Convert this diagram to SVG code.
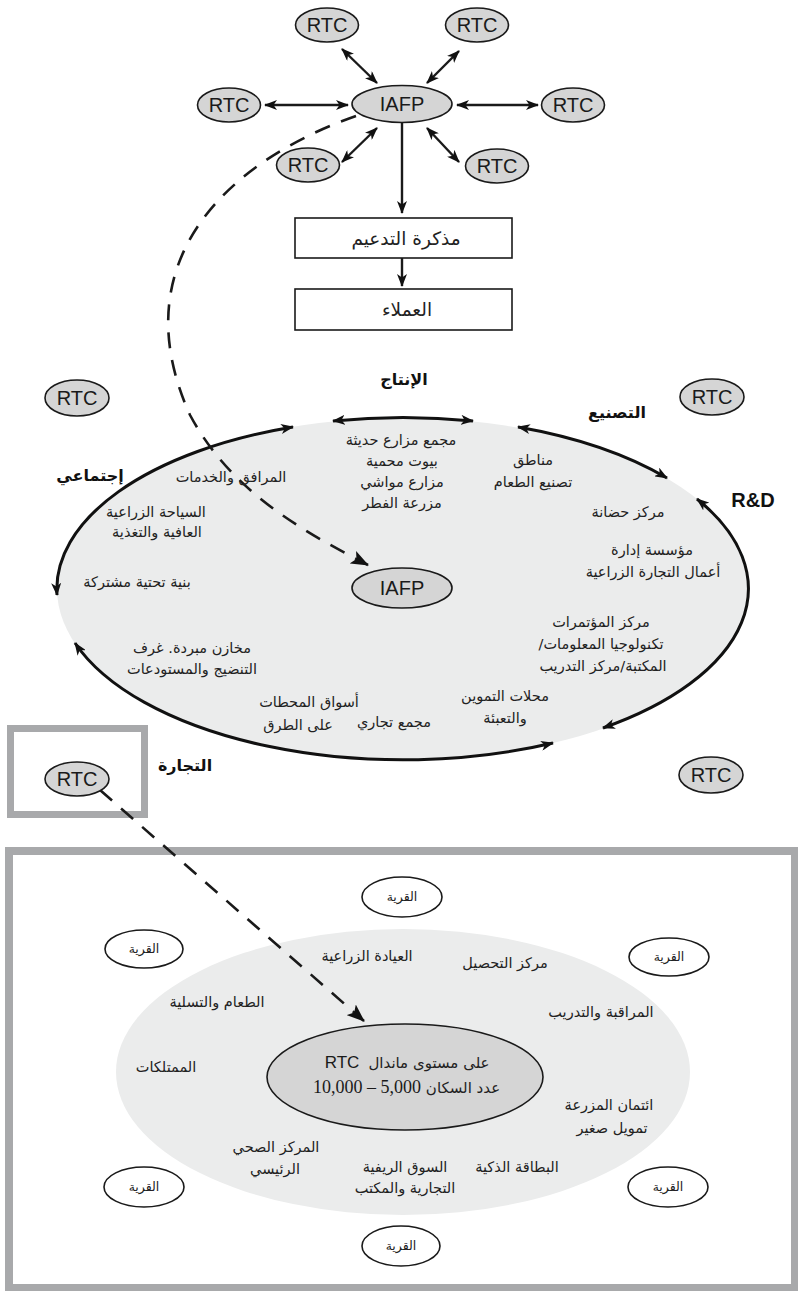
<svg xmlns="http://www.w3.org/2000/svg" width="798" height="1291" viewBox="0 0 798 1291">
  <style>
    .node { fill: #d5d5d5; stroke: #1a1a1a; stroke-width: 1.6; }
    .village { fill: #ffffff; stroke: #1a1a1a; stroke-width: 1.6; }
    .box { fill: #ffffff; stroke: #1a1a1a; stroke-width: 1.6; }
    .lat { font-family: "Liberation Sans", Arial, sans-serif; font-size: 20px; fill: #1a1a1a; text-anchor: middle; }
    .ar { font-family: "DejaVu Sans", "Noto Sans", sans-serif; font-size: 14.5px; fill: #222; text-anchor: middle; }
    .arbox { font-family: "DejaVu Sans", "Noto Sans", sans-serif; font-size: 18.5px; fill: #222; text-anchor: middle; }
    .arv { font-family: "DejaVu Sans", "Noto Sans", sans-serif; font-size: 12.5px; fill: #222; text-anchor: middle; }
    .head { font-family: "DejaVu Sans", "Noto Sans", sans-serif; font-size: 16px; font-weight: bold; fill: #111; text-anchor: middle; }
    .headlat { font-family: "Liberation Sans", Arial, sans-serif; font-size: 20px; font-weight: bold; fill: #111; text-anchor: middle; }
    .num { font-family: "Liberation Serif", "Times New Roman", serif; font-size: 18px; fill: #1a1a1a; }
    .link { fill: none; stroke: #1a1a1a; stroke-width: 2.4; }
    .arc { fill: none; stroke: #111; stroke-width: 3; }
    .dash { fill: none; stroke: #1a1a1a; stroke-width: 2.6; stroke-dasharray: 16 12; }
  </style>
  <defs>
    <marker id="ah" viewBox="0 0 13 10" refX="12" refY="5" markerWidth="13" markerHeight="10" markerUnits="userSpaceOnUse" orient="auto-start-reverse">
      <path d="M0,0 L13,5 L0,10 L3.5,5 z" fill="#111"/>
    </marker>
    <marker id="ahL" viewBox="0 0 18 14" refX="17" refY="7" markerWidth="18" markerHeight="14" markerUnits="userSpaceOnUse" orient="auto">
      <path d="M0,0 L18,7 L0,14 L4,7 z" fill="#111"/>
    </marker>
  </defs>

  <!-- background panels -->
  <rect x="0" y="0" width="798" height="1291" fill="#ffffff"/>
  <ellipse id="cluster-field" cx="403" cy="589" rx="346" ry="171" fill="#ebecec"/>
  <rect id="zoom-frame" x="9" y="851" width="786" height="437" fill="none" stroke="#a8a9ab" stroke-width="8"/>
  <rect id="lens-frame" x="10.5" y="728.5" width="134" height="86" fill="none" stroke="#a8a9ab" stroke-width="7"/>
  <ellipse id="mandal-field" cx="403" cy="1072" rx="287" ry="143" fill="#ebecec"/>

  <!-- connectors -->
  <g id="connectors">
    <line class="link" x1="265" y1="105" x2="348" y2="105" marker-start="url(#ah)" marker-end="url(#ah)"/>
    <line class="link" x1="457" y1="105" x2="538" y2="105" marker-start="url(#ah)" marker-end="url(#ah)"/>
    <line class="link" x1="342" y1="49" x2="377" y2="83" marker-start="url(#ah)" marker-end="url(#ah)"/>
    <line class="link" x1="459" y1="51" x2="427" y2="83" marker-start="url(#ah)" marker-end="url(#ah)"/>
    <line class="link" x1="377" y1="128" x2="342" y2="162" marker-start="url(#ah)" marker-end="url(#ah)"/>
    <line class="link" x1="427" y1="128" x2="459" y2="162" marker-start="url(#ah)" marker-end="url(#ah)"/>
    <line class="link" x1="402" y1="123" x2="402" y2="213" marker-end="url(#ah)"/>
    <line class="link" x1="402" y1="258" x2="402" y2="286" marker-end="url(#ah)"/>

    <!-- ring of sectors around the cluster -->
    <path class="arc" d="M57,595 A346,171 0 0 1 293,427" marker-start="url(#ah)" marker-end="url(#ah)"/>
    <path class="arc" d="M333,421 A346,171 0 0 1 473,421" marker-start="url(#ah)" marker-end="url(#ah)"/>
    <path class="arc" d="M518,427 A346,171 0 0 1 667,478" marker-start="url(#ah)" marker-end="url(#ah)"/>
    <path class="arc" d="M697,499 A346,171 0 0 1 603,728" marker-start="url(#ah)" marker-end="url(#ah)"/>
    <path class="arc" d="M553,743 A346,171 0 0 1 75,643" marker-start="url(#ah)" marker-end="url(#ah)"/>

    <!-- dashed references -->
    <path class="dash" d="M356,116 C230,160 120,260 190,415 C230,490 300,530 368,565" marker-end="url(#ahL)"/>
    <path class="dash" d="M100,790 L364,1021" marker-end="url(#ahL)"/>
  </g>

  <!-- top network -->
  <g id="rtc-top-left"><ellipse class="node" cx="327" cy="25" rx="31.5" ry="17"/><text class="lat" x="327" y="32">RTC</text></g>
  <g id="rtc-top-right"><ellipse class="node" cx="477" cy="25" rx="31.5" ry="17"/><text class="lat" x="477" y="32">RTC</text></g>
  <g id="rtc-left"><ellipse class="node" cx="229" cy="105" rx="31.5" ry="17"/><text class="lat" x="229" y="112">RTC</text></g>
  <g id="iafp-hub"><ellipse class="node" cx="402" cy="104" rx="50" ry="18.5"/><text class="lat" x="402" y="111">IAFP</text></g>
  <g id="rtc-right"><ellipse class="node" cx="573" cy="105" rx="31.5" ry="17"/><text class="lat" x="573" y="112">RTC</text></g>
  <g id="rtc-bottom-left"><ellipse class="node" cx="308" cy="165" rx="31.5" ry="17"/><text class="lat" x="308" y="172">RTC</text></g>
  <g id="rtc-bottom-right"><ellipse class="node" cx="497" cy="166" rx="31.5" ry="17"/><text class="lat" x="497" y="173">RTC</text></g>

  <g id="support-memo"><rect class="box" x="295" y="218" width="217" height="40"/><text class="arbox" x="406" y="245">مذكرة التدعيم</text></g>
  <g id="clients"><rect class="box" x="295" y="289" width="217" height="41"/><text class="arbox" x="407" y="316">العملاء</text></g>

  <!-- cluster ring -->
  <g id="rtc-mid-tl"><ellipse class="node" cx="77" cy="398" rx="32" ry="18"/><text class="lat" x="77" y="405">RTC</text></g>
  <g id="rtc-mid-tr"><ellipse class="node" cx="712" cy="397" rx="32" ry="18"/><text class="lat" x="712" y="404">RTC</text></g>
  <g id="rtc-mid-br"><ellipse class="node" cx="711" cy="775" rx="32" ry="18"/><text class="lat" x="711" y="782">RTC</text></g>
  <g id="rtc-mid-bl"><ellipse class="node" cx="77" cy="779" rx="32" ry="17"/><text class="lat" x="77" y="786">RTC</text></g>
  <g id="iafp-core"><ellipse class="node" cx="402" cy="588" rx="50" ry="20"/><text class="lat" x="402" y="595">IAFP</text></g>

  <g id="sector-labels">
    <text class="head" x="404" y="385">الإنتاج</text>
    <text class="head" x="617" y="418">التصنيع</text>
    <text class="headlat" x="753" y="507">R&amp;D</text>
    <text class="head" x="90" y="481">إجتماعي</text>
    <text class="head" x="185" y="771">التجارة</text>
  </g>

  <g id="production">
    <text class="ar" x="401" y="445">مجمع مزارع حديثة</text>
    <text class="ar" x="402" y="466">بيوت محمية</text>
    <text class="ar" x="402" y="487">مزارع مواشي</text>
    <text class="ar" x="402" y="508">مزرعة الفطر</text>
  </g>
  <g id="processing">
    <text class="ar" x="533" y="465">مناطق</text>
    <text class="ar" x="533" y="487">تصنيع الطعام</text>
  </g>
  <g id="research">
    <text class="ar" x="628" y="517">مركز حضانة</text>
    <text class="ar" x="652" y="555">مؤسسة إدارة</text>
    <text class="ar" x="653" y="577">أعمال التجارة الزراعية</text>
    <text class="ar" x="601" y="627">مركز المؤتمرات</text>
    <text class="ar" x="601" y="649">/تكنولوجيا المعلومات</text>
    <text class="ar" x="603" y="671">المكتبة/مركز التدريب</text>
  </g>
  <g id="trade">
    <text class="ar" x="505" y="701">محلات التموين</text>
    <text class="ar" x="505" y="723">والتعبئة</text>
    <text class="ar" x="394" y="727">مجمع تجاري</text>
    <text class="ar" x="309" y="707">أسواق المحطات</text>
    <text class="ar" x="298" y="730">على الطرق</text>
    <text class="ar" x="192" y="653">مخازن مبردة. غرف</text>
    <text class="ar" x="192" y="674">التنضيج والمستودعات</text>
  </g>
  <g id="social">
    <text class="ar" x="137" y="587">بنية تحتية مشتركة</text>
    <text class="ar" x="231" y="482">المرافق والخدمات</text>
    <text class="ar" x="156" y="517">السياحة الزراعية</text>
    <text class="ar" x="157" y="537">العافية والتغذية</text>
  </g>

  <!-- mandal-level detail -->
  <g id="village-n"><ellipse class="village" cx="402" cy="897" rx="40" ry="20"/><text class="arv" x="402" y="901">القرية</text></g>
  <g id="village-nw"><ellipse class="village" cx="144" cy="949" rx="39" ry="19"/><text class="arv" x="144" y="953">القرية</text></g>
  <g id="village-ne"><ellipse class="village" cx="669" cy="957" rx="40" ry="19"/><text class="arv" x="669" y="961">القرية</text></g>
  <g id="village-sw"><ellipse class="village" cx="144" cy="1187" rx="40" ry="20"/><text class="arv" x="144" y="1191">القرية</text></g>
  <g id="village-se"><ellipse class="village" cx="668" cy="1187" rx="40" ry="20"/><text class="arv" x="668" y="1191">القرية</text></g>
  <g id="village-s"><ellipse class="village" cx="401" cy="1246" rx="39" ry="20"/><text class="arv" x="401" y="1250">القرية</text></g>

  <g id="rtc-mandal">
    <ellipse class="node" cx="405" cy="1077" rx="138" ry="53" stroke-width="2"/>
    <text class="lat" x="342" y="1068" text-anchor="end" style="font-size:17px">RTC</text>
    <text class="ar" x="429" y="1068" style="font-size:15px">على مستوى ماندال</text>
    <text class="num" x="313" y="1093">10,000 – 5,000</text>
    <text class="ar" x="463" y="1093" style="font-size:15px">عدد السكان</text>
  </g>

  <g id="mandal-services">
    <text class="ar" x="367" y="961">العيادة الزراعية</text>
    <text class="ar" x="505" y="968">مركز التحصيل</text>
    <text class="ar" x="217" y="1007">الطعام والتسلية</text>
    <text class="ar" x="601" y="1017">المراقبة والتدريب</text>
    <text class="ar" x="166" y="1072">الممتلكات</text>
    <text class="ar" x="609" y="1110">ائتمان المزرعة</text>
    <text class="ar" x="612" y="1133">تمويل صغير</text>
    <text class="ar" x="517" y="1172">البطاقة الذكية</text>
    <text class="ar" x="405" y="1172">السوق الريفية</text>
    <text class="ar" x="405" y="1193">التجارية والمكتب</text>
    <text class="ar" x="276" y="1152">المركز الصحي</text>
    <text class="ar" x="275" y="1174">الرئيسي</text>
  </g>
</svg>
